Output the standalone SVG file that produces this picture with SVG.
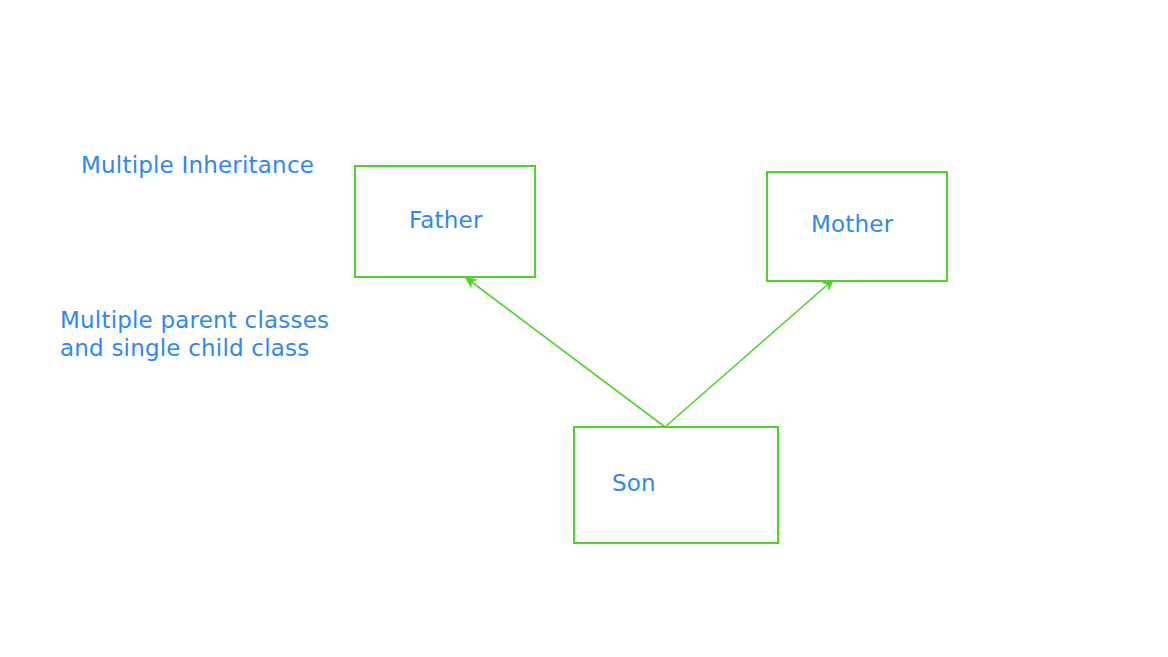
<svg xmlns="http://www.w3.org/2000/svg" width="1168" height="657" viewBox="0 0 1168 657">
<style>
.box{fill:#fff;stroke:#4cd42a;stroke-width:2}
.lbl{font-family:"DejaVu Sans",Verdana,sans-serif;font-size:23px;letter-spacing:0.2px;fill:#2f88f2}
.edge{stroke:#4cd42a;stroke-width:1.6;fill:none}
</style>
<defs>
<marker id="ah" viewBox="0 0 12 10" refX="11" refY="5" markerWidth="13" markerHeight="11" markerUnits="userSpaceOnUse" orient="auto">
<path d="M0,0 L12,5 L0,10 L3,5 Z" fill="#4cd42a"/>
</marker>
</defs>
<rect width="1168" height="657" fill="#fff"/>
<g id="title"><text class="lbl" x="81" y="173">Multiple Inheritance</text></g>
<g id="desc"><text class="lbl" x="60" y="328">Multiple parent classes</text><text class="lbl" x="60" y="356">and single child class</text></g>
<g id="connectors">
<line class="edge" x1="665" y1="427" x2="465" y2="277" marker-end="url(#ah)"/>
<line class="edge" x1="665" y1="427" x2="834" y2="279" marker-end="url(#ah)"/>
</g>
<g id="father"><rect class="box" x="355" y="166" width="180" height="111"/><text class="lbl" x="409" y="228">Father</text></g>
<g id="mother"><rect class="box" x="767" y="172" width="180" height="109"/><text class="lbl" x="811" y="232">Mother</text></g>
<g id="son"><rect class="box" x="574" y="427" width="204" height="116"/><text class="lbl" x="612" y="491">Son</text></g>
</svg>
